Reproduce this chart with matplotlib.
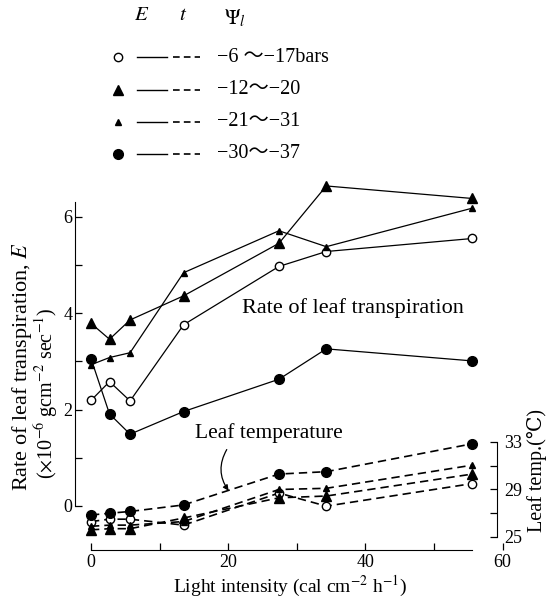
import matplotlib.pyplot as plt
from matplotlib.lines import Line2D

# serif, Times-like look
plt.rcParams['font.family'] = ['Liberation Serif', 'DejaVu Serif', 'Noto Sans CJK JP']
plt.rcParams['mathtext.fontset'] = 'stix'

# light intensity (cal cm-2 h-1)
light = [0, 2.7, 5.7, 13.5, 27.4, 34.3, 55.6]

# rate of leaf transpiration E (x10^-6 g cm-2 sec-1)
e_open = [2.19, 2.58, 2.18, 3.76, 4.97, 5.28, 5.55]
e_big_tri = [3.79, 3.46, 3.86, 4.36, 5.45, 6.64, 6.38]
e_small_tri = [2.93, 3.08, 3.18, 4.84, 5.71, 5.38, 6.18]
e_filled = [3.06, 1.91, 1.49, 1.96, 2.63, 3.26, 3.01]

# leaf temperature (deg C)
t_open = [26.3, 26.5, 26.5, 26.0, 28.7, 27.6, 29.5]
t_big_tri = [25.6, 25.7, 25.7, 26.6, 28.3, 28.45, 30.3]
t_small_tri = [25.9, 26.0, 26.0, 26.3, 29.0, 29.1, 31.05]
t_filled = [26.85, 27.0, 27.15, 27.7, 30.3, 30.5, 32.85]

# leaf water potential ranges
psi_ranges = ['−6 ～−17bars', '−12～−20', '−21～−31', '−30～−37']

e_series = [e_open, e_big_tri, e_small_tri, e_filled]
t_series = [t_open, t_big_tri, t_small_tri, t_filled]
styles = [
    dict(marker='o', ms=6, mfc='white'),
    dict(marker='^', ms=6.5, mfc='black'),
    dict(marker='^', ms=4.8, mfc='black'),
    dict(marker='o', ms=7, mfc='black'),
]

W, H = 549, 600
fig = plt.figure(figsize=(W / 100, H / 100), dpi=100)
# axes box: x=0 at 91 px (6.86 px/unit), E=0 at 506 px (48.2 px/unit)
ax = fig.add_axes([75 / W, 1 - 550 / H, (506 - 75) / W, (550 - 178) / H])
ax.set_xlim(-2.33, 60.5)
ax.set_ylim(-0.913, 6.805)
ax2 = ax.twinx()
ax2.set_ylim(23.905, 55.23)

for e, t, st in zip(e_series, t_series, styles):
    ax.plot(light, e, color='black', lw=0.9, mec='black', mew=1.0, clip_on=False, **st)
    ax2.plot(light, t, color='black', lw=1.2, ls=(0, (5, 3)), mec='black', mew=1.0,
             clip_on=False, **st)

# spines
for s in ['top', 'right']:
    ax.spines[s].set_visible(False)
for s in ['top', 'left', 'bottom']:
    ax2.spines[s].set_visible(False)
ax.spines['left'].set_bounds(0, 6.3)
ax.spines['bottom'].set_bounds(0, 55.6)
ax2.spines['right'].set_position(('data', 59.2))
ax2.spines['right'].set_bounds(25, 33)

ax.set_xticks([0, 20, 40, 60])
ax.set_xticks([10, 30, 50], minor=True)
ax.set_yticks([0, 2, 4, 6])
ax.set_yticks([1, 3, 5], minor=True)
ax2.set_yticks([25, 29, 33])
ax2.set_yticks([27, 31], minor=True)
ax.tick_params(which='both', direction='in', length=5, width=0.9, labelsize=13)
ax.tick_params(axis='x', pad=3)
ax.tick_params(axis='y', pad=2)
ax2.tick_params(which='both', direction='in', length=5, width=0.9, labelsize=13, pad=5)
for tk in ax.xaxis.get_major_ticks():
    if tk.get_loc() == 60:
        tk.tick1line.set_visible(False)

# annotations
ax.text(38.2, 4.1, 'Rate of leaf transpiration', ha='center', va='center', fontsize=16)
ax.text(25.9, 1.51, 'Leaf temperature', ha='center', va='center', fontsize=15.5)
ax.annotate('', xy=(20.3, 0.27), xytext=(20.0, 1.22),
            arrowprops=dict(arrowstyle='-|>', color='black', lw=0.9,
                            connectionstyle='arc3,rad=0.35', mutation_scale=8))

# axis labels
fig.text(22 / W, 1 - 366 / H, 'Rate of leaf transpiration, $E$', rotation=90,
         ha='center', va='center', fontsize=16)
fig.text(47 / W, 1 - 393 / H, r'($\times$10$^{-6}$ gcm$^{-2}$ sec$^{-1}$)', rotation=90,
         ha='center', va='center', fontsize=14.5)
fig.text(537 / W, 1 - 471 / H, 'Leaf temp.(℃)', rotation=90,
         ha='center', va='center', fontsize=14.5)
fig.text(290 / W, 1 - 586 / H, 'Light intensity (cal cm$^{-2}$ h$^{-1}$)',
         ha='center', va='center', fontsize=14)

# legend (drawn by hand)
fig.text(142 / W, 1 - 16 / H, '$E$', ha='center', va='center', fontsize=15)
fig.text(183 / W, 1 - 16 / H, '$t$', ha='center', va='center', fontsize=15)
fig.text(235 / W, 1 - 18 / H, r'$\mathit{\Psi}_l$', ha='center', va='center', fontsize=15)
rows_y = [57, 90, 122, 154]
for yy, st, lab in zip(rows_y, styles, psi_ranges):
    fy = 1 - yy / H
    fig.add_artist(Line2D([118 / W], [fy], transform=fig.transFigure, color='black',
                          mec='black', mew=1.0, ls='none', **st))
    fig.add_artist(Line2D([137 / W, 167 / W], [fy, fy], transform=fig.transFigure,
                          color='black', lw=1.0))
    fig.add_artist(Line2D([173 / W, 200 / W], [fy, fy], transform=fig.transFigure,
                          color='black', lw=1.2, ls=(0, (4, 2.5))))
    fig.text(217 / W, fy, lab, ha='left', va='center', fontsize=14.5)

fig.savefig('out.png', dpi=100)
